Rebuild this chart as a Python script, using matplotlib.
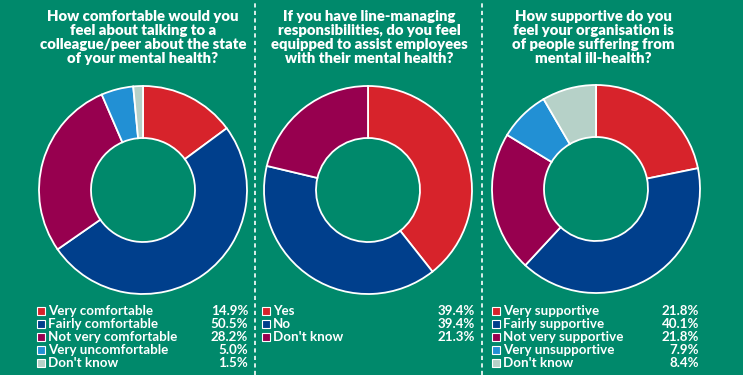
import matplotlib.pyplot as plt
from matplotlib.patches import Rectangle
from matplotlib.lines import Line2D

W, H = 743, 375
BG = '#00896b'

RED = '#d7232b'
BLUE = '#003f8c'
MAROON = '#97004f'
LIGHTBLUE = '#2290d4'
GREY = '#b6d1c8'

titles = [
    "How comfortable would you\nfeel about talking to a\ncolleague/peer about the state\nof your mental health?",
    "If you have line-managing\nresponsibilities, do you feel\nequipped to assist employees\nwith their mental health?",
    "How supportive do you\nfeel your organisation is\nof people suffering from\nmental ill-health?",
]

labels_1 = ["Very comfortable", "Fairly comfortable", "Not very comfortable",
            "Very uncomfortable", "Don't know"]
values_1 = [14.9, 50.5, 28.2, 5.0, 1.5]

labels_2 = ["Yes", "No", "Don't know"]
values_2 = [39.4, 39.4, 21.3]

labels_3 = ["Very supportive", "Fairly supportive", "Not very supportive",
            "Very unsupportive", "Don't know"]
values_3 = [21.8, 40.1, 21.8, 7.9, 8.4]

colors_5 = [RED, BLUE, MAROON, LIGHTBLUE, GREY]
colors_3 = [RED, BLUE, MAROON]

# panel layout in pixels
panels = [
    dict(labels=labels_1, values=values_1, colors=colors_5,
         cx=143, cy=190, tx=143, lx=37, rx=248),
    dict(labels=labels_2, values=values_2, colors=colors_3,
         cx=368, cy=190, tx=369, lx=262, rx=475),
    dict(labels=labels_3, values=values_3, colors=colors_5,
         cx=596, cy=189, tx=593, lx=492, rx=699),
]
R = 104
separators = [255, 482]

plt.rcParams['font.family'] = ['Lato', 'DejaVu Sans']

fig = plt.figure(figsize=(W / 100, H / 100), dpi=100, facecolor=BG)


def fx(x):
    return x / W


def fy(y):
    return 1 - y / H


for sx in separators:
    fig.add_artist(Line2D([fx(sx), fx(sx)], [0, 1], color='white',
                          linestyle=(0, (2.5, 2)), linewidth=1.2))

for i, p in enumerate(panels):
    # title
    fig.text(fx(p['tx']), fy(10), titles[i], ha='center', va='top',
             color='white', fontsize=10.7, fontweight='heavy',
             linespacing=1.1)

    # donut
    lim = 1.03
    side = 2 * R * lim
    ax = fig.add_axes([fx(p['cx'] - side / 2), fy(p['cy'] + side / 2),
                       side / W, side / H])
    ax.pie(p['values'], colors=p['colors'], startangle=90, counterclock=False,
           wedgeprops=dict(width=0.5, edgecolor='white', linewidth=1.3))
    ax.set_xlim(-lim, lim)
    ax.set_ylim(-lim, lim)
    ax.set_aspect('equal')
    ax.axis('off')

    # legend
    for j, (lab, val, col) in enumerate(zip(p['labels'], p['values'], p['colors'])):
        y = 311 + j * 13
        sq = 8
        fig.add_artist(Rectangle((fx(p['lx']), fy(y + sq / 2)), sq / W, sq / H,
                                 facecolor=col, edgecolor='white', linewidth=0.8,
                                 transform=fig.transFigure))
        fig.text(fx(p['lx'] + 11), fy(y), lab, ha='left', va='center',
                 color='white', fontsize=9.6, fontweight='bold')
        fig.text(fx(p['rx']), fy(y), f"{val:.1f}%", ha='right', va='center',
                 color='white', fontsize=9.6, fontweight='bold')

fig.savefig('out.png', dpi=100, facecolor=BG)
